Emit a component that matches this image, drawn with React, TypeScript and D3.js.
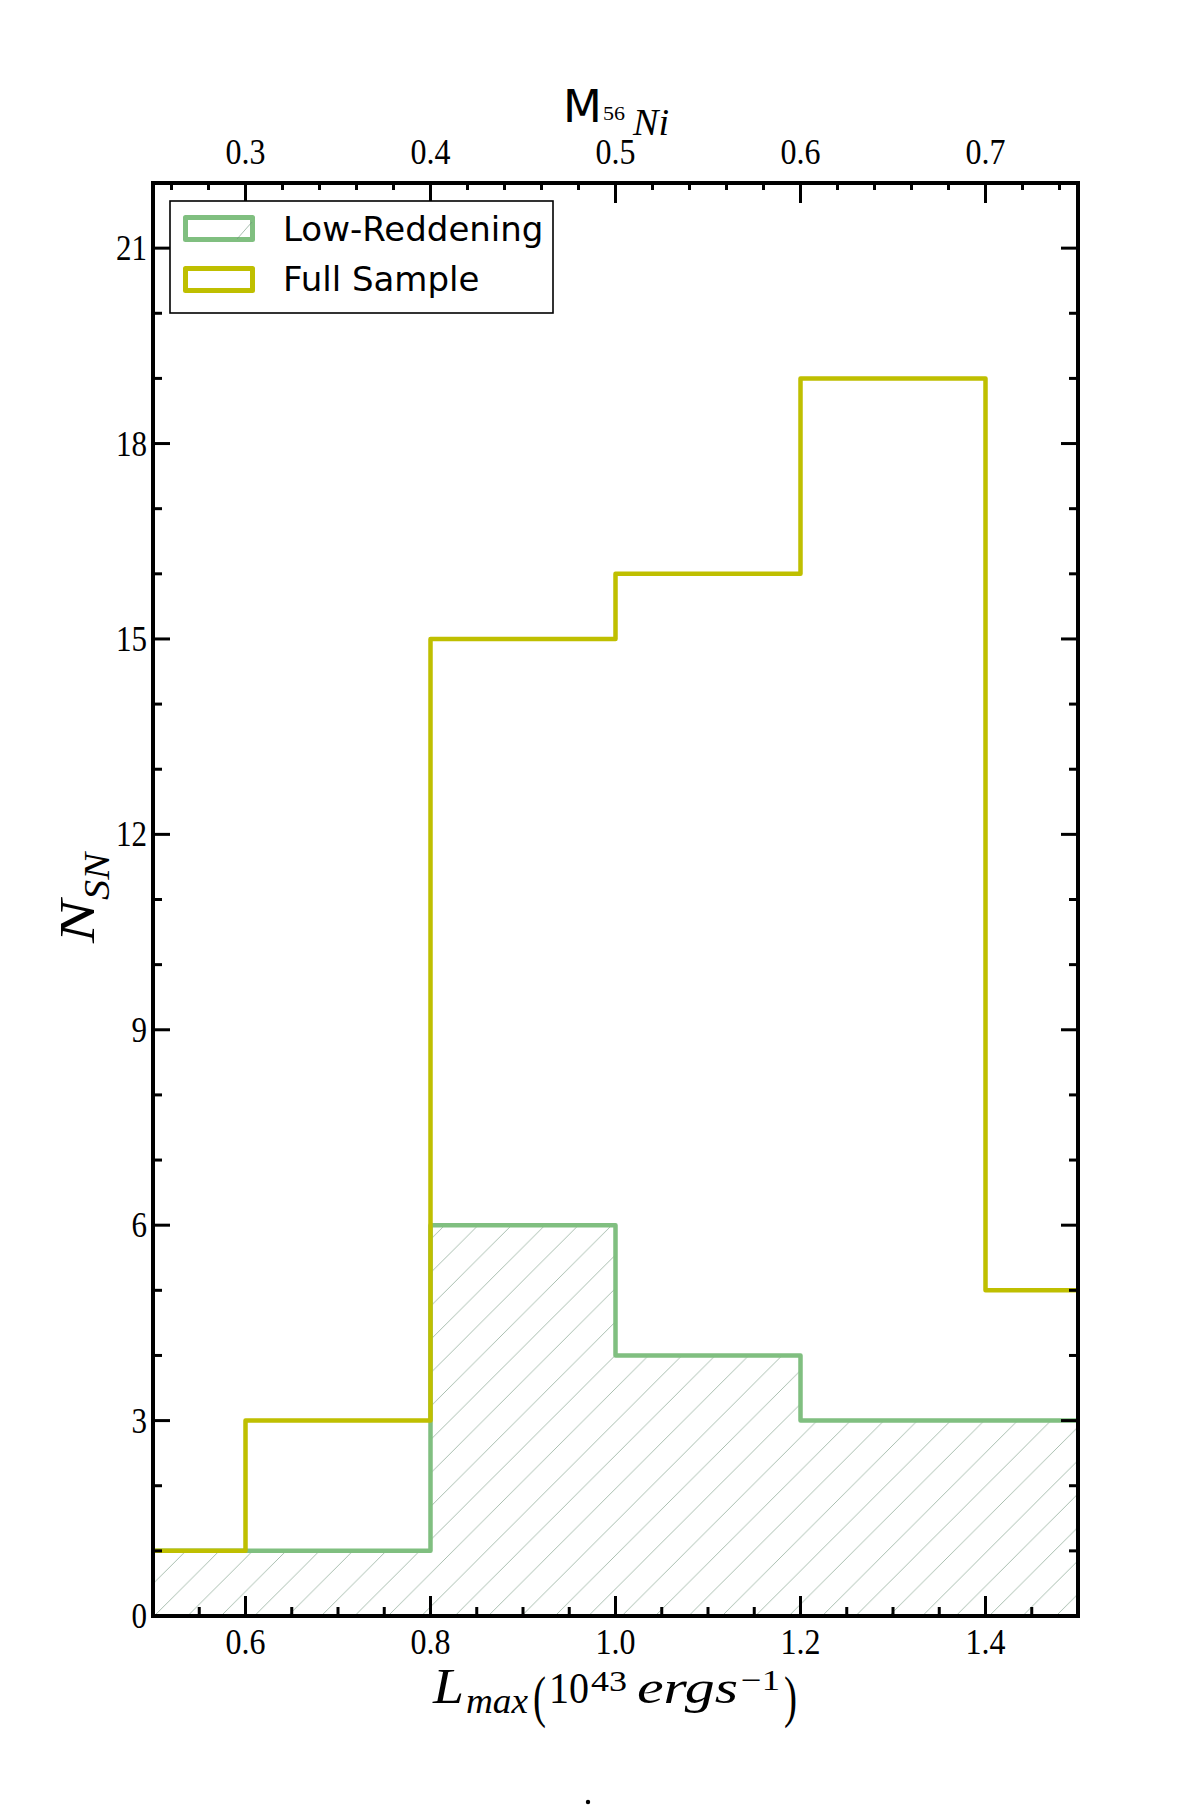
import React from "react";
import * as d3 from "d3";

// ---- data ----
const binEdges = [0.4, 0.6, 0.8, 1.0, 1.2, 1.4, 1.6];
const fullSample = [1, 3, 15, 16, 19, 5];
const lowReddening = [1, 1, 6, 4, 3, 3];
const xMajorTicks = [0.6, 0.8, 1.0, 1.2, 1.4];
const xMajorLabels = ["0.6", "0.8", "1.0", "1.2", "1.4"];
const topMajorTicks = [0.3, 0.4, 0.5, 0.6, 0.7];
const topMajorLabels = ["0.3", "0.4", "0.5", "0.6", "0.7"];
const yMajorTicks = [0, 3, 6, 9, 12, 15, 18, 21];
const yMajorLabels = ["0", "3", "6", "9", "12", "15", "18", "21"];
const legendLabels = ["Low-Reddening", "Full Sample"];

const W = 1200;
const H = 1805;
const M = { left: 153, right: 1078, top: 183, bottom: 1616 };

const GREEN = "#80bf80";
const YELLOW = "#bfbf00";

const labelWidth = (s: string) =>
  s.split("").reduce((acc, c) => acc + (c === "." ? 9 : 15.5), 0);

export default function App() {
  const x = d3.scaleLinear().domain([0.5, 1.5]).range([M.left, M.right]);
  const xTop = d3.scaleLinear().domain([0.25, 0.75]).range([M.left, M.right]);
  const y = d3.scaleLinear().domain([0, 22]).range([M.bottom, M.top]);

  const pts = (vals: number[]) => {
    const p: [number, number][] = vals.map((v, i) => [binEdges[i], v]);
    p.push([binEdges[binEdges.length - 1], vals[vals.length - 1]]);
    return p;
  };
  const line = d3
    .line<[number, number]>()
    .x((d) => x(d[0]))
    .y((d) => y(d[1]))
    .curve(d3.curveStepAfter);
  const area = d3
    .area<[number, number]>()
    .x((d) => x(d[0]))
    .y0(y(0))
    .y1((d) => y(d[1]))
    .curve(d3.curveStepAfter);

  const xMinor = d3.range(0.55, 1.5, 0.05).filter((v) => Math.abs(v / 0.2 - Math.round(v / 0.2)) > 1e-6);
  const topMinor = d3.range(0.26, 0.75, 0.02).filter((v) => Math.abs(v / 0.1 - Math.round(v / 0.1)) > 1e-6);
  const yMinor = d3.range(1, 22, 1).filter((v) => v % 3 !== 0);

  const VMAJ = 20;
  const VMIN = 9;
  const HMAJ = 17;
  const HMIN = 9;
  const tickStroke = { stroke: "#000", strokeWidth: 3 };
  const serif = "'Liberation Serif', 'Times New Roman', serif";
  const sans = "'DejaVu Sans', sans-serif";
  const P = 33.4;

  return (
    <svg
      width={W}
      height={H}
      style={{ position: "absolute", left: 0, top: 0, background: "#fff" }}
      xmlns="http://www.w3.org/2000/svg"
    >
      <defs>
        <clipPath id="plotClip">
          <rect x={M.left} y={M.top} width={M.right - M.left} height={M.bottom - M.top} />
        </clipPath>
        <pattern id="hatch" patternUnits="userSpaceOnUse" width={P} height={P}>
          <path
            d={`M0,${P} L${P},0 M-8,8 L8,-8 M${P - 8},${P + 8} L${P + 8},${P - 8}`}
            stroke="#6f927a"
            strokeWidth={0.8}
            strokeOpacity={0.75}
          />
          <path
            d={`M${-P / 2},${P / 2} L${P / 2},${-P / 2} M${P / 2},${P * 1.5} L${P * 1.5},${P / 2}`}
            stroke="#7f9f88"
            strokeWidth={1}
            strokeOpacity={0.7}
            strokeDasharray="2 3"
          />
        </pattern>
      </defs>
      <rect width={W} height={H} fill="#fff" />

      <g clipPath="url(#plotClip)">
        <path d={area(pts(lowReddening)) || ""} fill="url(#hatch)" />
        <path d={line(pts(lowReddening)) || ""} fill="none" stroke={GREEN} strokeWidth={4.5} strokeLinejoin="round" />
        <path d={line(pts(fullSample)) || ""} fill="none" stroke={YELLOW} strokeWidth={4.5} strokeLinejoin="round" />
      </g>

      {/* ticks bottom & top */}
      {xMajorTicks.map((t) => (
        <line key={"xm" + t} x1={x(t)} x2={x(t)} y1={M.bottom} y2={M.bottom - VMAJ} {...tickStroke} />
      ))}
      {xMinor.map((t) => (
        <line key={"xn" + t} x1={x(t)} x2={x(t)} y1={M.bottom} y2={M.bottom - VMIN} {...tickStroke} />
      ))}
      {topMajorTicks.map((t) => (
        <line key={"tm" + t} x1={xTop(t)} x2={xTop(t)} y1={M.top} y2={M.top + VMAJ} {...tickStroke} />
      ))}
      {topMinor.map((t) => (
        <line key={"tn" + t} x1={xTop(t)} x2={xTop(t)} y1={M.top} y2={M.top + VMIN - 2} {...tickStroke} />
      ))}
      {yMajorTicks.map((t) => (
        <g key={"ym" + t}>
          <line x1={M.left} x2={M.left + HMAJ} y1={y(t)} y2={y(t)} {...tickStroke} />
          <line x1={M.right} x2={M.right - HMAJ} y1={y(t)} y2={y(t)} {...tickStroke} />
        </g>
      ))}
      {yMinor.map((t) => (
        <g key={"yn" + t}>
          <line x1={M.left} x2={M.left + HMIN} y1={y(t)} y2={y(t)} {...tickStroke} />
          <line x1={M.right} x2={M.right - HMIN} y1={y(t)} y2={y(t)} {...tickStroke} />
        </g>
      ))}

      {/* frame */}
      <rect
        x={M.left}
        y={M.top}
        width={M.right - M.left}
        height={M.bottom - M.top}
        fill="none"
        stroke="#000"
        strokeWidth={4}
      />

      {/* tick labels */}
      {xMajorTicks.map((t, i) => (
        <text key={"xl" + t} x={x(t)} y={1654} textAnchor="middle" fontFamily={serif} fontSize={35}
          textLength={labelWidth(xMajorLabels[i])} lengthAdjust="spacingAndGlyphs">
          {xMajorLabels[i]}
        </text>
      ))}
      {topMajorTicks.map((t, i) => (
        <text key={"tl" + t} x={xTop(t)} y={164} textAnchor="middle" fontFamily={serif} fontSize={35}
          textLength={labelWidth(topMajorLabels[i])} lengthAdjust="spacingAndGlyphs">
          {topMajorLabels[i]}
        </text>
      ))}
      {yMajorTicks.map((t, i) => (
        <text key={"yl" + t} x={147} y={y(t) + 12} textAnchor="end" fontFamily={serif} fontSize={35}
          textLength={labelWidth(yMajorLabels[i])} lengthAdjust="spacingAndGlyphs">
          {yMajorLabels[i]}
        </text>
      ))}

      {/* top axis title */}
      <text x={563} y={122} fontFamily={sans} fontSize={45}>M</text>
      <text x={603} y={120} fontFamily={serif} fontSize={18} textLength={22} lengthAdjust="spacingAndGlyphs">56</text>
      <text x={633} y={135} fontFamily={serif} fontSize={37} fontStyle="italic" textLength={36} lengthAdjust="spacingAndGlyphs">Ni</text>

      {/* bottom axis title */}
      <g fontFamily={serif}>
        <text x={433} y={1703} fontSize={50} fontStyle="italic" textLength={31} lengthAdjust="spacingAndGlyphs">L</text>
        <text x={466} y={1713} fontSize={35} fontStyle="italic" textLength={62} lengthAdjust="spacingAndGlyphs">max</text>
        <text x={533} y={1716} fontSize={56} textLength={13} lengthAdjust="spacingAndGlyphs">(</text>
        <text x={549} y={1703} fontSize={44} textLength={40} lengthAdjust="spacingAndGlyphs">10</text>
        <text x={591} y={1691} fontSize={29} textLength={36} lengthAdjust="spacingAndGlyphs">43</text>
        <text x={637} y={1703} fontSize={46} fontStyle="italic" textLength={101} lengthAdjust="spacingAndGlyphs">ergs</text>
        <text x={741} y={1690} fontSize={30} textLength={39} lengthAdjust="spacingAndGlyphs">−1</text>
        <text x={784} y={1716} fontSize={56} textLength={13} lengthAdjust="spacingAndGlyphs">)</text>
      </g>

      {/* left axis title */}
      <g transform="translate(94,943) rotate(-90)" fontFamily={serif} fontStyle="italic">
        <text x={0} y={0} fontSize={50} textLength={43} lengthAdjust="spacingAndGlyphs">N</text>
        <text x={43} y={15} fontSize={35} textLength={47} lengthAdjust="spacingAndGlyphs">SN</text>
      </g>

      {/* legend */}
      <rect x={170} y={201} width={383} height={112} fill="#fff" stroke="#000" strokeWidth={1.6} />
      <rect x={185.5} y={217.5} width={67} height={22} fill="#fff" stroke={GREEN} strokeWidth={5} strokeLinejoin="round" />
      <line x1={237} y1={239} x2={252} y2={222} stroke="#6f927a" strokeWidth={0.8} strokeOpacity={0.75} />
      <rect x={185.5} y={268.5} width={67} height={22} fill="none" stroke={YELLOW} strokeWidth={5} strokeLinejoin="round" />
      <text x={283} y={241} fontFamily={sans} fontSize={34}>{legendLabels[0]}</text>
      <text x={283} y={291} fontFamily={sans} fontSize={34}>{legendLabels[1]}</text>

      <circle cx={588} cy={1802} r={2.2} fill="#000" />
    </svg>
  );
}
